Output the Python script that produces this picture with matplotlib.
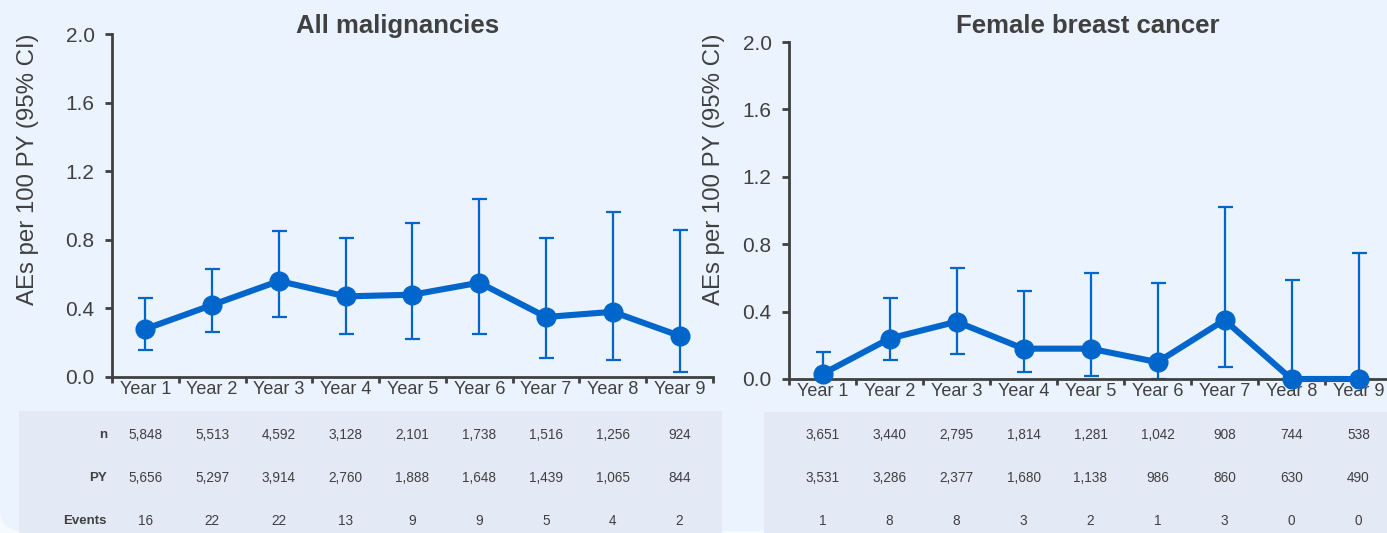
import numpy as np
import matplotlib
matplotlib.use("Agg")
import matplotlib.pyplot as plt
import matplotlib.transforms as mtransforms
from matplotlib.patches import FancyBboxPatch, Rectangle

plt.rcParams['font.family'] = ['Liberation Sans', 'DejaVu Sans']

# ---- data ----
years = ["Year 1", "Year 2", "Year 3", "Year 4", "Year 5",
         "Year 6", "Year 7", "Year 8", "Year 9"]
row_labels = ["n", "PY", "Events"]

mal_title = "All malignancies"
mal_rate = [0.28, 0.42, 0.56, 0.47, 0.48, 0.55, 0.35, 0.38, 0.24]
mal_lo = [0.16, 0.26, 0.35, 0.25, 0.22, 0.25, 0.11, 0.10, 0.03]
mal_hi = [0.46, 0.63, 0.85, 0.81, 0.90, 1.04, 0.81, 0.96, 0.86]
mal_n = ["5,848", "5,513", "4,592", "3,128", "2,101", "1,738", "1,516", "1,256", "924"]
mal_py = ["5,656", "5,297", "3,914", "2,760", "1,888", "1,648", "1,439", "1,065", "844"]
mal_ev = ["16", "22", "22", "13", "9", "9", "5", "4", "2"]

bc_title = "Female breast cancer"
bc_rate = [0.03, 0.24, 0.34, 0.18, 0.18, 0.10, 0.35, 0.0, 0.0]
bc_lo = [0.0, 0.11, 0.15, 0.04, 0.02, 0.0, 0.07, 0.0, 0.0]
bc_hi = [0.16, 0.48, 0.66, 0.52, 0.63, 0.57, 1.02, 0.59, 0.75]
bc_n = ["3,651", "3,440", "2,795", "1,814", "1,281", "1,042", "908", "744", "538"]
bc_py = ["3,531", "3,286", "2,377", "1,680", "1,138", "986", "860", "630", "490"]
bc_ev = ["1", "8", "8", "3", "2", "1", "3", "0", "0"]

yticks = [0.0, 0.4, 0.8, 1.2, 1.6, 2.0]

BLUE = "#0066CC"
TXT = "#404040"
BG = "#EBF3FE"
TABLE_BG = "#E4E9F6"

W, H = 1387, 533
fig = plt.figure(figsize=(W / 100, H / 100), dpi=100)
fig.patch.set_facecolor("#F6F9FE")

def px(x0, y0, x1, y1):
    # pixel box (top-left origin) -> figure fraction [l, b, w, h]
    return [x0 / W, 1 - y1 / H, (x1 - x0) / W, (y1 - y0) / H]

# rounded panel background (pixel coords, bottom-left origin)
fig.patches.append(FancyBboxPatch((0, 2), 1600, 800,
                                  boxstyle="round,pad=0,rounding_size=22",
                                  transform=mtransforms.IdentityTransform(),
                                  facecolor=BG, edgecolor="none", zorder=-10))

# table backgrounds
for box in [(19, 411, 722, 540), (764, 412, 1400, 540)]:
    l, b, w, h = px(*box)
    fig.patches.append(Rectangle((l, b), w, h, transform=fig.transFigure,
                                 facecolor=TABLE_BG, edgecolor="none", zorder=-5))


def panel(rect, title, title_x, ylab_x, rate, lo, hi, rows, show_rowlabels):
    ax = fig.add_axes(px(*rect))
    ax.set_facecolor("none")
    x = np.arange(len(years)) + 0.5
    rate = np.array(rate)
    yerr = [rate - np.array(lo), np.array(hi) - rate]
    ax.errorbar(x, rate, yerr=yerr, fmt="none", ecolor=BLUE, elinewidth=1.6,
                capsize=5.4, capthick=1.6, zorder=2, clip_on=False)
    ax.plot(x, rate, color=BLUE, lw=4.4, marker="o", ms=13.5,
            zorder=3, clip_on=False)

    ax.set_xlim(0, len(years))
    ax.set_ylim(0, 2.0)
    ax.set_yticks(yticks)
    ax.set_yticklabels([f"{v:.1f}" for v in yticks])
    ax.set_xticks(np.arange(len(years) + 1))
    ax.set_xticklabels([])
    ax.set_xticks(x, minor=True)
    ax.set_xticklabels(years, minor=True)

    for s in ["top", "right"]:
        ax.spines[s].set_visible(False)
    for s in ["left", "bottom"]:
        ax.spines[s].set_color(TXT)
        ax.spines[s].set_linewidth(2.0)

    ax.tick_params(axis="y", length=5, width=2.0, color=TXT, labelcolor=TXT,
                   labelsize=15, pad=7.5)
    ax.tick_params(axis="x", which="major", length=4, width=2.0, color=TXT)
    ax.tick_params(axis="x", which="minor", length=0, labelcolor=TXT,
                   labelsize=13, pad=3)

    ax.set_ylabel("AEs per 100 PY (95% CI)", fontsize=17.3, color=TXT)
    top, bot = rect[1], rect[3]
    ax.yaxis.set_label_coords((ylab_x - rect[0]) / (rect[2] - rect[0]),
                              (bot - 169) / (bot - top))
    fig.text(title_x / W, 1 - 26 / H, title, ha="center", va="center",
             fontsize=18.5, fontweight="bold", color=TXT)

    trans = mtransforms.blended_transform_factory(ax.transData, fig.transFigure)
    row_y = [1 - 435 / H, 1 - 478 / H, 1 - 521 / H]
    for lab, vals, yy in zip(row_labels, rows, row_y):
        if show_rowlabels:
            fig.text(107 / W, yy, lab, ha="right", va="center", fontsize=9.5,
                     fontweight="bold", color=TXT)
        for xi, v in zip(x, vals):
            ax.text(xi, yy, v, transform=trans, ha="center", va="center",
                    fontsize=9.8, color=TXT, clip_on=False)
    return ax


ax1 = panel((112, 34, 713, 377), mal_title, 398, 39, mal_rate, mal_lo, mal_hi,
            [mal_n, mal_py, mal_ev], True)
ax2 = panel((789, 42, 1392, 379), bc_title, 1088, 725, bc_rate, bc_lo, bc_hi,
            [bc_n, bc_py, bc_ev], False)

fig.savefig("out.png", dpi=100, facecolor=fig.get_facecolor())
